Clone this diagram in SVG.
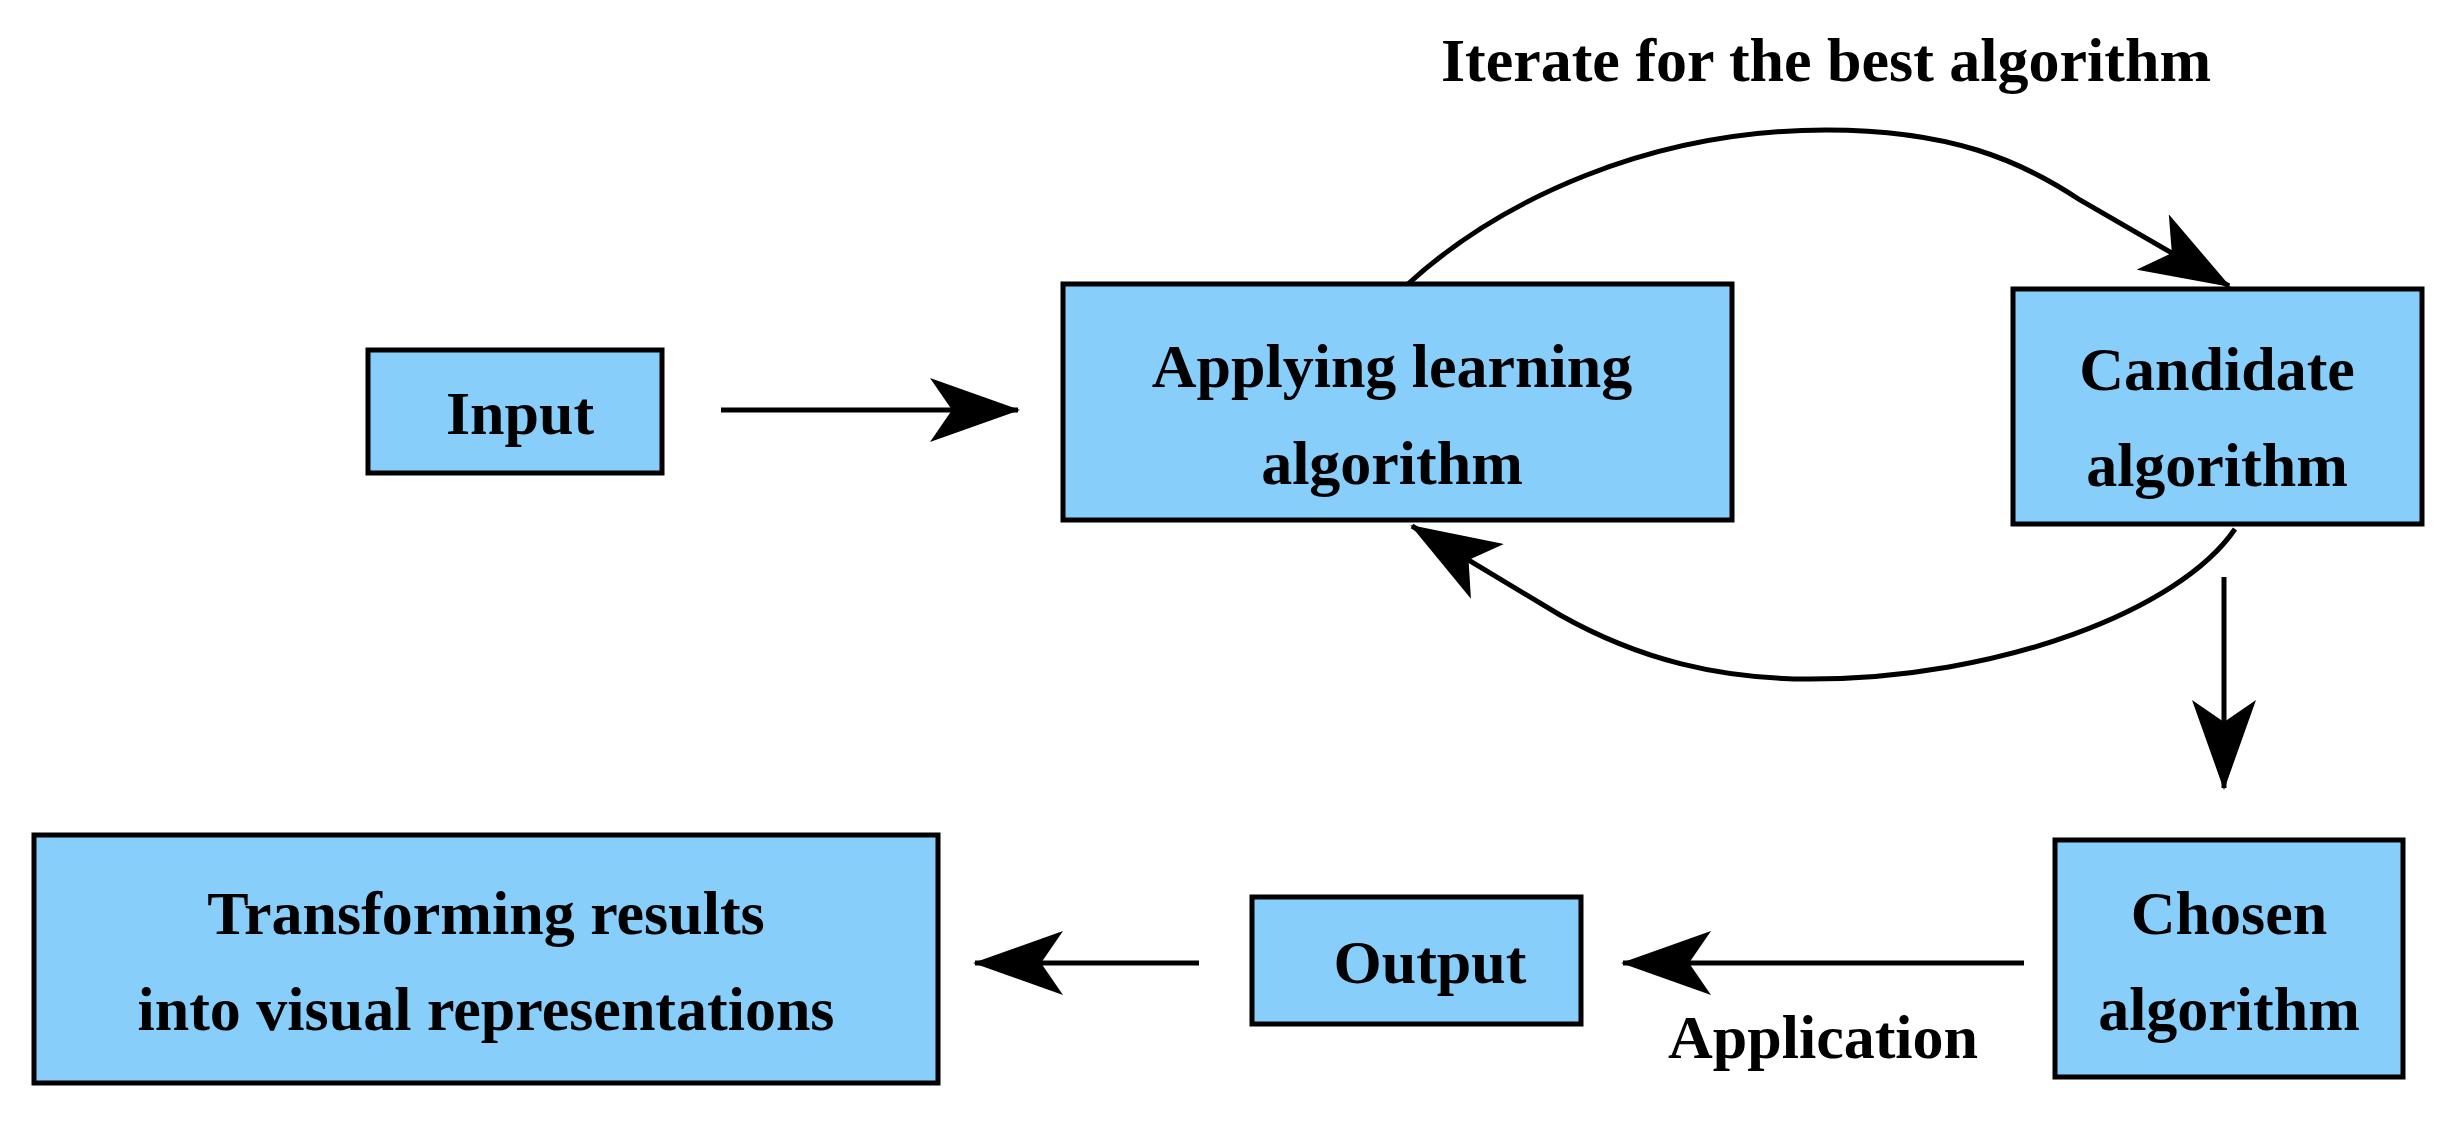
<svg xmlns="http://www.w3.org/2000/svg" width="2447" height="1121" viewBox="0 0 2447 1121">
<style>
.box{fill:#87CEFA;stroke:#000;stroke-width:5}
.t{font-family:"Liberation Serif",serif;font-weight:bold;font-size:62px;text-anchor:middle;fill:#000}
.c{fill:none;stroke:#000;stroke-width:5}
</style>
<defs>
<marker id="a" markerUnits="userSpaceOnUse" markerWidth="90" markerHeight="64" viewBox="0 0 90 64" refX="88" refY="32" orient="auto">
<path d="M0,0 L90,32 L0,64 L22,32 Z" fill="#000"/>
</marker>
</defs>
<rect width="2447" height="1121" fill="#fff"/>
<g id="input"><rect class="box" x="368" y="350" width="294" height="123"/><text class="t" x="520" y="434">Input</text></g>
<g id="applying"><rect class="box" x="1063" y="284" width="669" height="236"/><text class="t" x="1392" y="387">Applying learning</text><text class="t" x="1392" y="484">algorithm</text></g>
<g id="candidate"><rect class="box" x="2013" y="289" width="409" height="235"/><text class="t" x="2217" y="390">Candidate</text><text class="t" x="2217" y="486">algorithm</text></g>
<g id="chosen"><rect class="box" x="2055" y="840" width="348" height="237"/><text class="t" x="2229" y="934">Chosen</text><text class="t" x="2229" y="1030">algorithm</text></g>
<g id="output"><rect class="box" x="1252" y="897" width="329" height="127"/><text class="t" x="1430" y="983">Output</text></g>
<g id="transform"><rect class="box" x="34" y="835" width="904" height="248"/><text class="t" x="486" y="934">Transforming results</text><text class="t" x="486" y="1030">into visual representations</text></g>
<g id="labels"><text class="t" x="1826" y="81">Iterate for the best algorithm</text><text class="t" x="1823" y="1058">Application</text></g>
<g id="connectors">
<line class="c" x1="721" y1="410" x2="1018" y2="410" marker-end="url(#a)"/>
<path class="c" d="M1408,284 C1500,200 1650,130 1826,130 C1950,130 2020,160 2080,200 L2229,286" marker-end="url(#a)"/>
<path class="c" d="M2235,529 C2180,610 2000,679 1810,679 C1720,679 1640,660 1560,615 L1412,526" marker-end="url(#a)"/>
<line class="c" x1="2224" y1="577" x2="2224" y2="788" marker-end="url(#a)"/>
<line class="c" x1="2024" y1="963" x2="1623" y2="963" marker-end="url(#a)"/>
<line class="c" x1="1199" y1="963" x2="975" y2="963" marker-end="url(#a)"/>
</g>
</svg>
